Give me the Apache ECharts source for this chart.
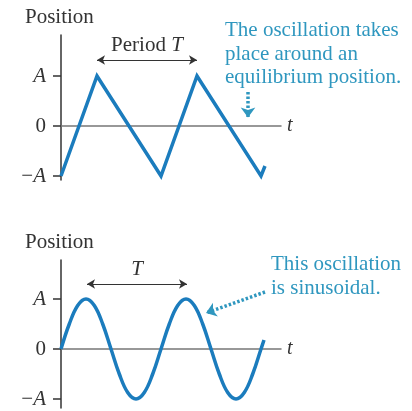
<!DOCTYPE html>
<html>
<head>
<meta charset="utf-8">
<script src="https://cdn.jsdelivr.net/npm/echarts@6/dist/echarts.min.js"></script>
<style>
  html, body { margin: 0; padding: 0; background: #fff; }
  #chart { width: 412px; height: 411px; }
</style>
</head>
<body>
<div id="chart"></div>
<script>
// Time is measured in periods (T = 1), position in amplitudes (A = 1).
const triangleTime = [0, 0.36, 1.0, 1.36, 2.0, 2.04];
const trianglePos  = [-1, 1, -1, 1, -1, -0.8];

const sineTime = [0, 0.083, 0.167, 0.25, 0.333, 0.417, 0.5, 0.583, 0.667, 0.75, 0.833, 0.917,
                  1.0, 1.083, 1.167, 1.25, 1.333, 1.417, 1.5, 1.583, 1.667, 1.75, 1.833, 1.917,
                  2.0, 2.03];
const sinePos  = [0, 0.5, 0.87, 1, 0.87, 0.5, 0, -0.5, -0.87, -1, -0.87, -0.5,
                  0, 0.5, 0.87, 1, 0.87, 0.5, 0, -0.5, -0.87, -1, -0.87, -0.5,
                  0, 0.18];

const yTickValues = [-1, 0, 1];
const yTickLabels = ['{n|−}{i|A}', '{n|0}', '{i|A}'];

// Period markers: [start, end, height]
const periodTop    = [0.36, 1.36, 1.32];
const periodBottom = [0.26, 1.26, 1.3];

// Callout arrows: [x0, y0, x1, y1]
const calloutTop    = [1.87, 0.68, 1.87, 0.17];
const calloutBottom = [2.04, 1.14, 1.45, 0.72];

const SERIF = 'Liberation Serif';
const FS = 21;
const WAVE = '#1b7cbd';
const NOTE = '#2f97bf';
const INK = '#333';

const xy = (t, p) => t.map((v, i) => [v, p[i]]);

function makeX(idx) {
  return {
    gridIndex: idx, type: 'value', min: 0, max: 2.2,
    axisLine: { onZero: true, lineStyle: { color: '#777', width: 1.5 } },
    axisTick: { show: false }, axisLabel: { show: false }, splitLine: { show: false },
    name: 't', nameLocation: 'end', nameGap: 6,
    nameTextStyle: { fontFamily: SERIF, fontStyle: 'italic', fontSize: 20, color: INK }
  };
}
function makeY(idx, min, max) {
  return {
    gridIndex: idx, type: 'value', min: min, max: max,
    axisLine: { onZero: false, lineStyle: { color: INK, width: 1.5 } },
    axisTick: { show: true, customValues: yTickValues, length: 8, lineStyle: { color: INK, width: 1.5 } },
    axisLabel: {
      customValues: yTickValues, margin: 15, fontFamily: SERIF, fontSize: FS, color: INK,
      formatter: v => yTickLabels[yTickValues.indexOf(Math.round(v))],
      rich: {
        n: { fontFamily: SERIF, fontSize: FS, color: INK },
        i: { fontFamily: SERIF, fontSize: FS, fontStyle: 'italic', color: INK }
      }
    },
    splitLine: { show: false }
  };
}
function periodMark(p, label) {
  return [
    { coord: [p[0], p[2]], symbol: 'arrow',
      label: { show: true, position: 'insideMiddleTop', distance: 4, formatter: label,
        fontFamily: SERIF, fontSize: FS, color: INK,
        rich: { n: { fontFamily: SERIF, fontSize: FS, color: INK },
                i: { fontFamily: SERIF, fontSize: FS, fontStyle: 'italic', color: INK } } },
      lineStyle: { color: INK, width: 1, type: 'solid' } },
    { coord: [p[1], p[2]], symbol: 'arrow' }
  ];
}
function calloutMark(c) {
  return [
    { coord: [c[0], c[1]], symbol: 'none', label: { show: false },
      lineStyle: { color: NOTE, width: 3.5, type: [2.5, 2] } },
    { coord: [c[2], c[3]], symbol: 'arrow', symbolSize: [11, 10] }
  ];
}
function note(left, top, text) {
  return { type: 'text', left: left, top: top,
    style: { text: text, fontFamily: SERIF, fontSize: FS, lineHeight: 23.5, fill: NOTE } };
}

const option = {
  animation: false,
  backgroundColor: '#fff',
  grid: [
    { left: 61, width: 220, top: 35, height: 145 },
    { left: 61, width: 220, top: 260, height: 148 }
  ],
  xAxis: [makeX(0), makeX(1)],
  yAxis: [makeY(0, -1.08, 1.82), makeY(1, -1.18, 1.78)],
  series: [
    {
      type: 'line', xAxisIndex: 0, yAxisIndex: 0, data: xy(triangleTime, trianglePos),
      showSymbol: false, lineStyle: { color: WAVE, width: 3.5, join: 'miter', cap: 'butt' },
      markLine: { silent: true, symbolSize: [7, 8],
        data: [periodMark(periodTop, '{n|Period }{i|T}'), calloutMark(calloutTop)] }
    },
    {
      type: 'line', xAxisIndex: 1, yAxisIndex: 1, data: xy(sineTime, sinePos),
      smooth: 0.4, showSymbol: false, lineStyle: { color: WAVE, width: 3.5 },
      markLine: { silent: true, symbolSize: [7, 8],
        data: [periodMark(periodBottom, '{i|T}'), calloutMark(calloutBottom)] }
    }
  ],
  graphic: [
    { type: 'text', left: 25, top: 7,
      style: { text: 'Position', fontFamily: SERIF, fontSize: FS, fill: INK } },
    { type: 'text', left: 25, top: 232,
      style: { text: 'Position', fontFamily: SERIF, fontSize: FS, fill: INK } },
    note(225, 19, 'The oscillation takes\nplace around an\nequilibrium position.'),
    note(271, 253, 'This oscillation\nis sinusoidal.')
  ]
};

const chart = echarts.init(document.getElementById('chart'));
function draw() {
  chart.clear();
  chart.setOption(option);
}
draw();
// Redraw once the serif faces are ready so text is measured and painted with them.
if (document.fonts && document.fonts.load) {
  Promise.all([
    document.fonts.load('21px "Liberation Serif"'),
    document.fonts.load('italic 21px "Liberation Serif"')
  ]).then(draw, draw);
}
setTimeout(draw, 250);
</script>
</body>
</html>
